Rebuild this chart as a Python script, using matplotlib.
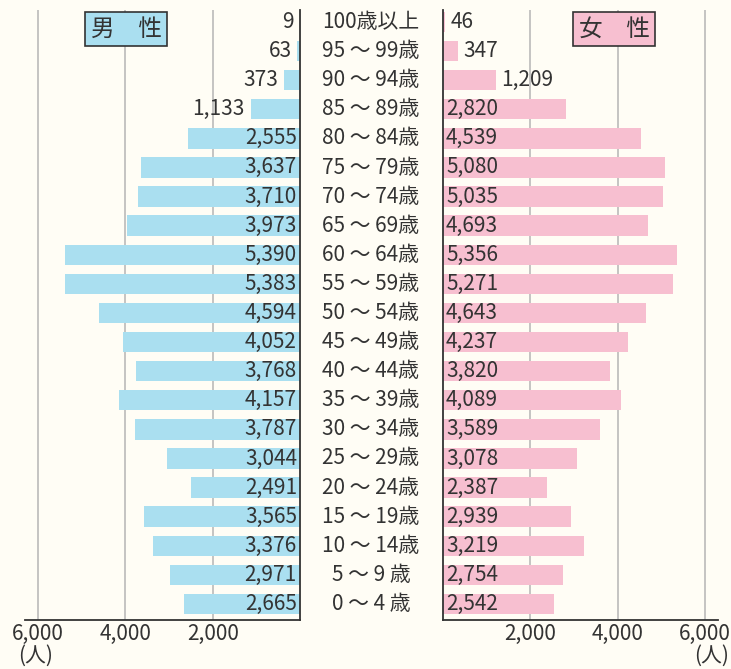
import matplotlib
matplotlib.use("Agg")
import matplotlib.pyplot as plt

plt.rcParams["font.family"] = ["Noto Sans CJK JP", "DejaVu Sans"]

ages = ["0 ～ 4 歳", "5 ～ 9 歳", "10 ～ 14歳", "15 ～ 19歳", "20 ～ 24歳",
        "25 ～ 29歳", "30 ～ 34歳", "35 ～ 39歳", "40 ～ 44歳", "45 ～ 49歳",
        "50 ～ 54歳", "55 ～ 59歳", "60 ～ 64歳", "65 ～ 69歳", "70 ～ 74歳",
        "75 ～ 79歳", "80 ～ 84歳", "85 ～ 89歳", "90 ～ 94歳", "95 ～ 99歳",
        "100歳以上"]
male = [2665, 2971, 3376, 3565, 2491, 3044, 3787, 4157, 3768, 4052, 4594,
        5383, 5390, 3973, 3710, 3637, 2555, 1133, 373, 63, 9]
female = [2542, 2754, 3219, 2939, 2387, 3078, 3589, 4089, 3820, 4237, 4643,
          5271, 5356, 4693, 5035, 5080, 4539, 2820, 1209, 347, 46]
ticks = [2000, 4000, 6000]
tick_labels = ["2,000", "4,000", "6,000"]

BG = "#fffdf5"
BLUE, PINK = "#aadff0", "#f7bfd0"
INK, GRID = "#333333", "#b5b5b5"
FS = 15

W, H = 731, 669
fig = plt.figure(figsize=(W / 100, H / 100), dpi=100, facecolor=BG)
bottom, top = (H - 620) / H, (H - 10) / H
axL = fig.add_axes([25 / W, bottom, 275 / W, top - bottom])
axR = fig.add_axes([443 / W, bottom, 275 / W, top - bottom])

y = list(range(len(ages)))
for ax, vals, col, side in [(axL, male, BLUE, "L"), (axR, female, PINK, "R")]:
    ax.set_facecolor(BG)
    ax.barh(y, vals, height=0.7, color=col, zorder=2)
    ax.set_ylim(-0.55, len(ages) - 0.59)
    ax.set_xlim(0, 6300)
    ax.set_yticks([])
    ax.set_xticks(ticks)
    ax.set_xticklabels(tick_labels, fontsize=FS, color=INK)
    ax.tick_params(axis="x", length=0, pad=2)
    for t in ticks:
        ax.axvline(t, color=GRID, lw=1.1, zorder=1)
    for s in ax.spines.values():
        s.set_visible(False)
    ax.spines["bottom"].set_visible(True)
    ax.spines["bottom"].set_color(INK)
    ax.spines["bottom"].set_linewidth(1.3)
    inner = "right" if side == "L" else "left"
    ax.spines[inner].set_visible(True)
    ax.spines[inner].set_color(INK)
    ax.spines[inner].set_linewidth(1.3)
    ax.spines[inner].set_zorder(4)
    for i, v in enumerate(vals):
        x0 = v + 60 if v < 2000 else 0
        ax.text(x0 + 70, i, f"{v:,}", fontsize=FS, color=INK, va="center",
                ha="right" if side == "L" else "left", zorder=3)

axL.invert_xaxis()

for i, a in enumerate(ages):
    yy = (H - 604 + i * 29.1) / H
    fig.text(371 / W, yy, a, ha="center", va="center", fontsize=FS, color=INK)

fig.text(126 / W, (H - 29) / H, "男　性", ha="center", va="center",
         fontsize=17, color=INK, zorder=5,
         bbox=dict(boxstyle="square,pad=0.25", fc=BLUE, ec=INK, lw=1.2))
fig.text(614 / W, (H - 29) / H, "女　性", ha="center", va="center",
         fontsize=17, color=INK, zorder=5,
         bbox=dict(boxstyle="square,pad=0.25", fc=PINK, ec=INK, lw=1.2))

fig.text(36 / W, (H - 656) / H, "(人)", ha="center", va="center",
         fontsize=FS, color=INK)
fig.text(712 / W, (H - 656) / H, "(人)", ha="center", va="center",
         fontsize=FS, color=INK)

fig.savefig("out.png", dpi=100, facecolor=BG)
